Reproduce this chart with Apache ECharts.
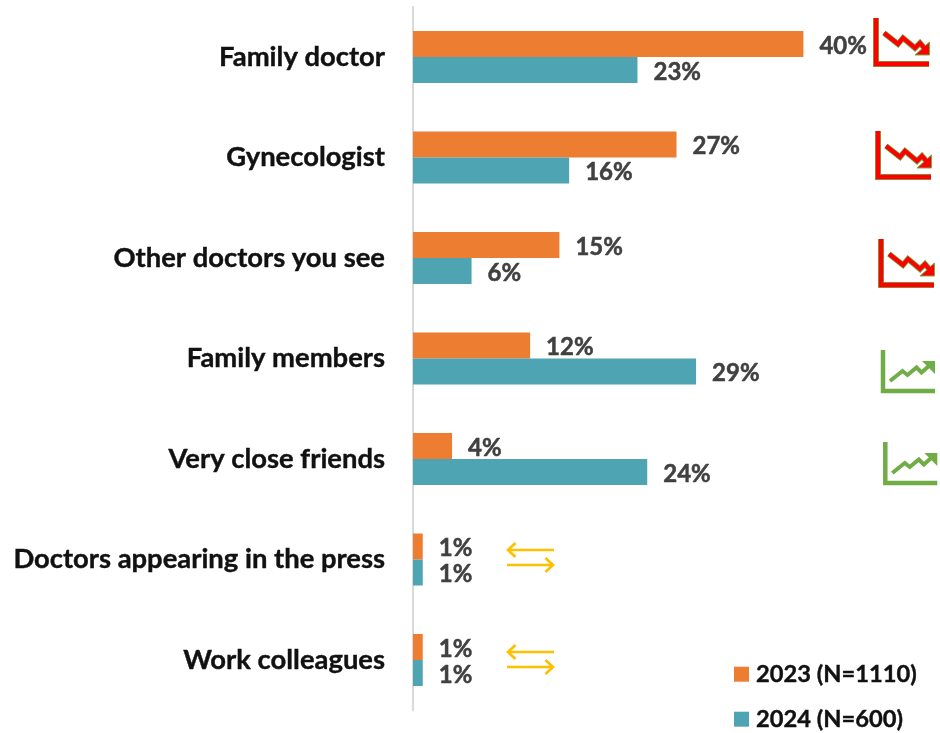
<!DOCTYPE html>
<html><head><meta charset="utf-8">
<style>html,body{margin:0;padding:0;background:#fff}#c{width:940px;height:733px}</style>
<script src="https://cdn.jsdelivr.net/npm/echarts@6/dist/echarts.min.js"></script>
</head><body><div id="c"></div>
<script>
const categories = ['Family doctor','Gynecologist','Other doctors you see','Family members','Very close friends','Doctors appearing in the press','Work colleagues'];
const values2023 = [40,27,15,12,4,1,1];
const values2024 = [23,16,6,29,24,1,1];
const seriesNames = ['2023 (N=1110)','2024 (N=600)'];
const FONT = 'Lato, "Open Sans", sans-serif';
const ORANGE = '#ed7d31', TEAL = '#4ea4b2', RED = '#ff0000', GREEN = '#70ad47', YELLOW = '#ffc000';

function poly(points, stroke, lineWidth) {
  return {type:'polyline', silent:true, shape:{points},
    style:{stroke, lineWidth, fill:'none', lineJoin:'miter'}};
}
function shift(pts, dx, dy){ return pts.map(p=>[p[0]+dx,p[1]+dy]); }
function downIcon(dx, dy){
  const L = shift([[876,18],[876,64],[929,64]],dx,dy);
  const Z = shift([[884,33],[898,44],[903,38],[915,48],[920,43],[926,50]],dx,dy);
  const H = shift([[929.5,42],[929.5,55],[915,55]],dx,dy);
  return [
    poly(L,GREEN,6), poly(Z,GREEN,5.8),
    {type:'polygon',silent:true,shape:{points:H},style:{fill:RED,stroke:GREEN,lineWidth:1}},
    poly(L,RED,4.4), poly(Z,RED,4.2)
  ];
}
function upIcon(dx, dy){
  const L = shift([[883,350],[883,391],[935,391]],dx,dy);
  const Z = shift([[890,381],[902.5,371],[907.5,375],[916.5,367.5],[921.5,372.5],[930,365]],dx,dy);
  const H = shift([[922,361],[935,361],[935,374]],dx,dy);
  return [
    poly(L,GREEN,4.5), poly(Z,GREEN,4),
    {type:'polygon',silent:true,shape:{points:H},style:{fill:GREEN}}
  ];
}
function arrows(y1, y2){
  return [
    poly([[508,y1],[554,y1]],YELLOW,2.7),
    poly([[515.5,y1-7],[508,y1],[515.5,y1+7]],YELLOW,2.7),
    poly([[507,y2],[553,y2]],YELLOW,2.7),
    poly([[545.5,y2-7],[553,y2],[545.5,y2+7]],YELLOW,2.7)
  ];
}
const labelStyle = {show:true, position:'right', distance:16, offset:[0,2], formatter:'{c}%',
  fontFamily:FONT, fontWeight:'bold', fontSize:24, color:'#404040',
  textBorderColor:'#404040', textBorderWidth:0.5};
function legendFor(name, top){
  return {orient:'vertical', left:734, top, padding:0, itemWidth:15, itemHeight:15,
    icon:'rect', selectedMode:false,
    textStyle:{fontFamily:FONT, fontWeight:'bold', fontSize:23.7, color:'#111111',
      padding:[0,0,0,2], textBorderColor:'#111111', textBorderWidth:0.4},
    data:[name]};
}

const chart = echarts.init(document.getElementById('c'), null, {renderer:'canvas'});
chart.setOption({
  animation:false,
  backgroundColor:'#fff',
  grid:{left:413, top:6.75, width:488, height:703.5, containLabel:false},
  xAxis:{type:'value', min:0, max:50, show:false},
  yAxis:{type:'category', data:categories, inverse:true,
    axisLine:{show:true, lineStyle:{color:'#d9d9d9', width:2}},
    axisTick:{show:false},
    axisLabel:{margin:28, fontFamily:FONT, fontWeight:'bold', fontSize:27.4, color:'#111111',
      padding:[2,0,0,0], textBorderColor:'#111111', textBorderWidth:0.4}},
  legend:[legendFor(seriesNames[0],662), legendFor(seriesNames[1],707)],
  series:[
    {name:seriesNames[0], type:'bar', data:values2023, barWidth:26, barGap:'0%',
     itemStyle:{color:ORANGE}, label:labelStyle},
    {name:seriesNames[1], type:'bar', data:values2024, barWidth:26, barGap:'0%',
     itemStyle:{color:TEAL}, label:labelStyle}
  ],
  graphic:{elements:[].concat(
    downIcon(0,0), downIcon(2,113), downIcon(5,221),
    upIcon(0,0), upIcon(2.3,92),
    arrows(550,565), arrows(652,667)
  )}
});
</script></body></html>
